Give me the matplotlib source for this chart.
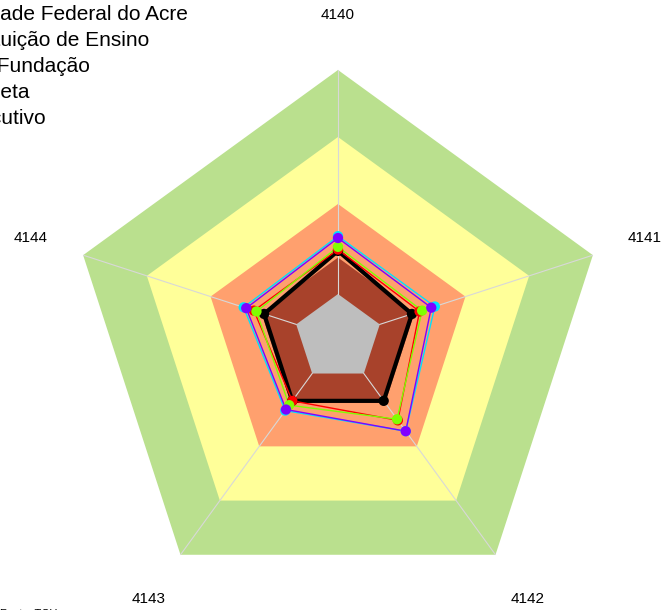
import numpy as np
import matplotlib.pyplot as plt
from matplotlib.lines import Line2D

plt.rcParams['font.family'] = ['Liberation Sans', 'DejaVu Sans']

questoes = ['4140', '4141', '4142', '4143', '4144']

# faixas de fundo (limite externo de cada faixa)
faixas = [1.0, 0.75, 0.50, 0.30, 0.164]
cores_faixas = ['#BAE08E', '#FFFF99', '#FFA06E', '#A8422B', '#BEBEBE']

series = ['Universidade Federal do Acre', 'Sua Instituição de Ensino',
          'Unidade Fundação', 'Nível x Meta', 'Alto Executivo']
ufac = [0.325, 0.29, 0.29, 0.29, 0.29]
instituicao = [0.33, 0.32, 0.38, 0.29, 0.33]
fundacao = [0.34, 0.33, 0.375, 0.31, 0.32]
meta = [0.38, 0.38, 0.43, 0.335, 0.37]
executivo = [0.373, 0.366, 0.43, 0.33, 0.36]
valores = [ufac, instituicao, fundacao, meta, executivo]
cores = ['black', 'red', '#80FF00', '#00E0FF', '#8000FF']
larguras = [3.0, 1.0, 1.0, 1.0, 1.0]

n = len(questoes)
ang = np.arange(n) * 2 * np.pi / n
ang_f = np.append(ang, ang[0])

fig = plt.figure(figsize=(6.63, 6.10), dpi=100)
ax = fig.add_axes([0.1056, 0.0066, 0.8084, 0.8787], projection='polar')
ax.set_theta_offset(np.pi / 2)
ax.set_theta_direction(-1)
ax.set_ylim(0, 1)
ax.set_axis_off()

for r, c in zip(faixas, cores_faixas):
    ax.fill(ang_f, [r] * (n + 1), color=c, lw=0, zorder=1)

for a in ang:
    ax.plot([a, a], [0.164, 1.0], color='#D8D8D8', lw=0.8, zorder=2)

handles = []
for v, c, lw in zip(valores, cores, larguras):
    v_f = v + [v[0]]
    ax.plot(ang_f, v_f, color=c, lw=lw, zorder=3)
    ax.scatter(ang, v, s=55, color=c, zorder=4, edgecolors='none')
    handles.append(Line2D([], [], color=c, lw=lw, marker='o', markersize=7))

for a, q in zip(ang, questoes):
    ax.text(a, 1.205, q, ha='center', va='center', fontsize=11, clip_on=False)

fig.legend(handles, series, loc='upper left', bbox_to_anchor=(-0.232, 1.0054),
           frameon=False, fontsize=15, borderaxespad=0, labelspacing=0.33)

fig.text(0.0, 0.002, 'Fonte: TCU', fontsize=8, va='top')

plt.savefig('out.png', dpi=100)
